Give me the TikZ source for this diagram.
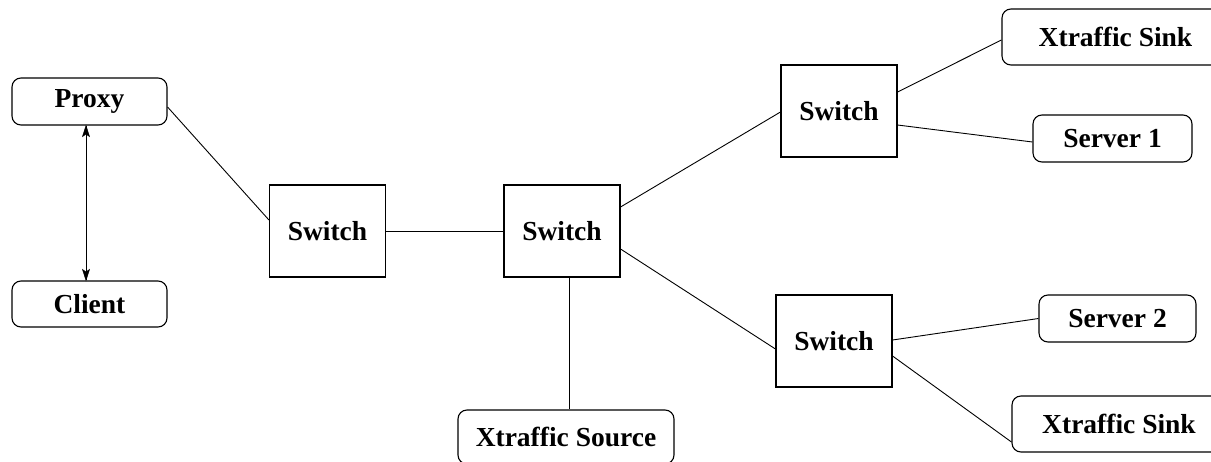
\documentclass[tikz,border=0pt]{standalone}
\usepackage{fontspec}
\setmainfont{Liberation Serif}
\tikzset{
  netbox/.style={draw, line width=1.1pt, inner sep=0pt, align=center,
    font=\fontsize{27.5}{31}\selectfont\bfseries},
  hostbox/.style={netbox, rounded corners=9pt},
  switchbox/.style={netbox, minimum width=116pt, minimum height=92pt},
  link/.style={line width=0.9pt},
  headfill/.style={fill=black, draw=black, line width=0.5pt, line join=miter},
}
\begin{document}
\begin{tikzpicture}[x=1pt, y=-1pt]
  \useasboundingbox (0,0) rectangle (1211,461);

  % end hosts
  \node[hostbox, minimum width=155pt, minimum height=47pt] (proxy)  at (89.5,101.5) {Proxy};
  \node[hostbox, minimum width=155pt, minimum height=46pt] (client) at (89.5,304)   {Client};
  \node[hostbox, minimum width=227pt, minimum height=56pt] (sinkA)  at (1115.5,37)  {Xtraffic Sink};
  \node[hostbox, minimum width=159pt, minimum height=47pt] (srv1)   at (1112.5,138.5) {Server 1};
  \node[hostbox, minimum width=157pt, minimum height=47pt] (srv2)   at (1117.5,318.5) {Server 2};
  \node[hostbox, minimum width=214pt, minimum height=56pt] (sinkB)  at (1119,424)   {Xtraffic Sink};
  \node[hostbox, minimum width=216pt, minimum height=54pt] (src)    at (566,437)    {Xtraffic Source};

  % switches
  \node[switchbox] (sw1) at (327.5,231) {Switch};
  \node[switchbox] (sw2) at (562,231)   {Switch};
  \node[switchbox] (sw3) at (839,111)   {Switch};
  \node[switchbox] (sw4) at (834,341)   {Switch};

  % two-way link between proxy and client, with filled heads at both ends
  \coordinate (pc1) at ([xshift=-3.5pt]proxy.south);
  \coordinate (pc2) at ([xshift=-3.5pt]client.north);
  \draw[link] (pc1) -- (pc2);
  \filldraw[headfill] (pc1) -- ++(-3.5,11) -- ++(3.5,-2.5) -- ++(3.5,2.5) -- cycle;
  \filldraw[headfill] (pc2) -- ++(-3.5,-11) -- ++(3.5,2.5) -- ++(3.5,-2.5) -- cycle;

  % links
  \draw[link] ([yshift=-5.5pt]proxy.east) -- ([yshift=11pt]sw1.west);
  \draw[link] (sw1.east) -- (sw2.west);
  \draw[link] ([yshift=24pt]sw2.east) -- ([yshift=-1pt]sw3.west);
  \draw[link] ([yshift=-18pt]sw2.east) -- ([yshift=-8pt]sw4.west);
  \draw[link] ([xshift=7pt]sw2.south) -- ([xshift=7pt]sw2.south |- src.north);
  \draw[link] ([yshift=19pt]sw3.east) -- ([yshift=-3pt]sinkA.west);
  \draw[link] ([yshift=-14pt]sw3.east) -- ([yshift=-3.5pt]srv1.west);
  \draw[link] ([yshift=1pt]sw4.east) -- (srv2.west);
  \draw[link] ([yshift=-15pt]sw4.east) -- ([yshift=-18pt]sinkB.west);
\end{tikzpicture}
\end{document}
